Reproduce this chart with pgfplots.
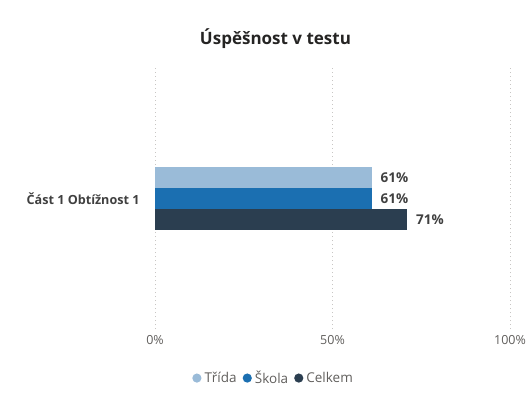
\documentclass[border=0pt]{standalone}
\usepackage{pgfplots}
\pgfplotsset{compat=1.18}
\usepackage{fontspec}
\setmainfont{Open Sans}
\definecolor{trida}{HTML}{9ABBD8}
\definecolor{skola}{HTML}{1B6FB1}
\definecolor{celkem}{HTML}{2B3E50}
\definecolor{txt}{HTML}{605E5C}
\definecolor{dark}{HTML}{252423}
\definecolor{lab}{HTML}{404040}
\definecolor{gridc}{HTML}{C8C6C4}
\begin{document}
\begin{tikzpicture}[x=1pt,y=1pt]
\path (0,0) rectangle (531,405);
\node[font=\fontsize{17}{20}\selectfont\bfseries, text=dark] at (275.5,366) {Úspěšnost v testu};
\begin{axis}[
  at={(155pt,76pt)}, anchor=south west,
  scale only axis, width=355pt, height=261pt,
  xbar, bar width=21pt,
  xmin=0, xmax=100, ymin=-1, ymax=1,
  axis line style={draw=none},
  tick style={draw=none},
  xmajorgrids, grid style={gridc, line width=0.9pt, dash pattern=on 1pt off 3pt},
  xtick={0,50,100},
  xticklabel={\pgfmathprintnumber{\tick}\%},
  /pgf/number format/assume math mode=true,
  xticklabel style={font=\fontsize{12.5}{14}\selectfont, text=txt, anchor=center, yshift=-11.5pt},
  ytick={0}, yticklabels={Část 1 Obtížnost 1},
  yticklabel style={font=\fontsize{12.6}{15}\selectfont\bfseries, text=lab, anchor=east, inner sep=0pt, xshift=-11pt},
  nodes near coords={\pgfmathprintnumber{\pgfplotspointmeta}\%},
  nodes near coords style={font=\fontsize{13.5}{15}\selectfont\bfseries, text=lab, anchor=west, inner sep=0pt, xshift=9pt},
  legend columns=3,
  legend style={at={(0.334,-0.188)}, anchor=center, draw=none, fill=none,
    font=\fontsize{13.5}{15}\selectfont, text=txt, inner sep=0pt,
    /tikz/every even column/.append style={column sep=4pt},
    /tikz/every odd column/.append style={column sep=1pt}},
  legend image code/.code={\fill[#1] (3pt,0pt) circle (4.6pt);},
]
\addplot[fill=trida, draw=none, bar shift=21pt] coordinates {(61,0)};
\addplot[fill=skola, draw=none, bar shift=0pt] coordinates {(61,0)};
\addplot[fill=celkem, draw=none, bar shift=-21pt] coordinates {(71,0)};
\legend{Třída, Škola, Celkem}
\end{axis}
\end{tikzpicture}
\end{document}
